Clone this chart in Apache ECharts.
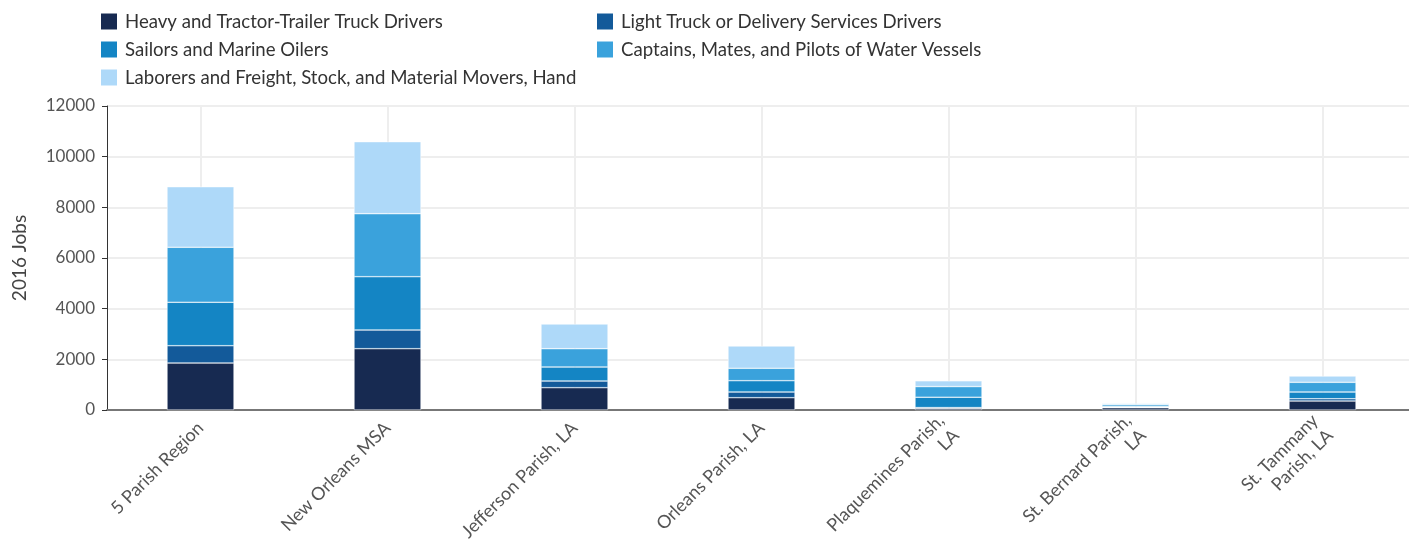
<!DOCTYPE html>
<html>
<head>
<meta charset="utf-8">
<script src="https://cdn.jsdelivr.net/npm/echarts@6/dist/echarts.min.js"></script>
<style>html,body{margin:0;padding:0;background:#fff}#c{width:1409px;height:546px}</style>
</head>
<body>
<div id="c"></div>
<script>
const categories = ["5 Parish Region", "New Orleans MSA", "Jefferson Parish, LA", "Orleans Parish, LA", "Plaquemines Parish,\nLA", "St. Bernard Parish,\nLA", "St. Tammany\nParish, LA"];
const seriesNames = ["Heavy and Tractor-Trailer Truck Drivers", "Light Truck or Delivery Services Drivers", "Sailors and Marine Oilers", "Captains, Mates, and Pilots of Water Vessels", "Laborers and Freight, Stock, and Material Movers, Hand"];
const heavyTruck = [1855, 2421, 882, 487, 65, 90, 355];
const lightTruck = [684, 737, 263, 224, 30, 20, 90];
const sailors = [1713, 2105, 552, 447, 410, 35, 265];
const captains = [2171, 2487, 724, 487, 420, 70, 382];
const laborers = [2392, 2842, 974, 881, 225, 45, 249];
const colors = ["#172a51", "#135a9a", "#1485c4", "#3aa2dc", "#aed9f9"];
const yTicks = [0, 2000, 4000, 6000, 8000, 10000, 12000];

const values = [heavyTruck, lightTruck, sailors, captains, laborers];
const chart = echarts.init(document.getElementById('c'));
const txt = {fontFamily: 'Lato', fontSize: 18.6, color: '#333', padding: [0, 0, 0, 3]};
chart.setOption({
  animation: false,
  color: colors,
  textStyle: {fontFamily: 'Lato'},
  legend: [
    {left: 96, top: 7, orient: 'vertical', itemWidth: 16, itemHeight: 16, itemGap: 9, icon: 'rect',
     itemStyle: {borderWidth: 0}, data: [seriesNames[0], seriesNames[2], seriesNames[4]], textStyle: txt},
    {left: 592, top: 7, orient: 'vertical', itemWidth: 16, itemHeight: 16, itemGap: 9, icon: 'rect',
     itemStyle: {borderWidth: 0}, data: [seriesNames[1], seriesNames[3]], textStyle: txt}
  ],
  grid: {left: 107, top: 106, bottom: 136, right: -7, containLabel: false, outerBoundsMode: 'none'},
  xAxis: {
    type: 'category', data: categories,
    axisLine: {lineStyle: {color: '#777', width: 2}},
    axisTick: {show: false},
    splitLine: {show: true, alignWithLabel: true, lineStyle: {color: '#eee', width: 2}},
    axisLabel: {rotate: 45, interval: 0, fontFamily: 'Lato', fontSize: 18, color: '#555', margin: 15, lineHeight: 21}
  },
  yAxis: {
    type: 'value', min: yTicks[0], max: yTicks[yTicks.length - 1], interval: 2000,
    name: '2016 Jobs', nameLocation: 'middle', nameGap: 78, nameRotate: 90,
    nameTextStyle: {fontFamily: 'Lato', fontSize: 19, color: '#444'},
    axisLine: {show: true, lineStyle: {color: '#333', width: 1}},
    axisTick: {show: true, length: 5, lineStyle: {color: '#333'}},
    splitLine: {lineStyle: {color: '#eee', width: 2}},
    axisLabel: {fontFamily: 'Lato', fontSize: 17, color: '#555', margin: 12, formatter: v => String(v)}
  },
  series: seriesNames.map((n, i) => ({
    name: n, type: 'bar', stack: 'total', barWidth: 67,
    itemStyle: {color: colors[i], borderColor: '#fff', borderWidth: 0.5},
    data: values[i]
  }))
});
</script>
</body>
</html>
